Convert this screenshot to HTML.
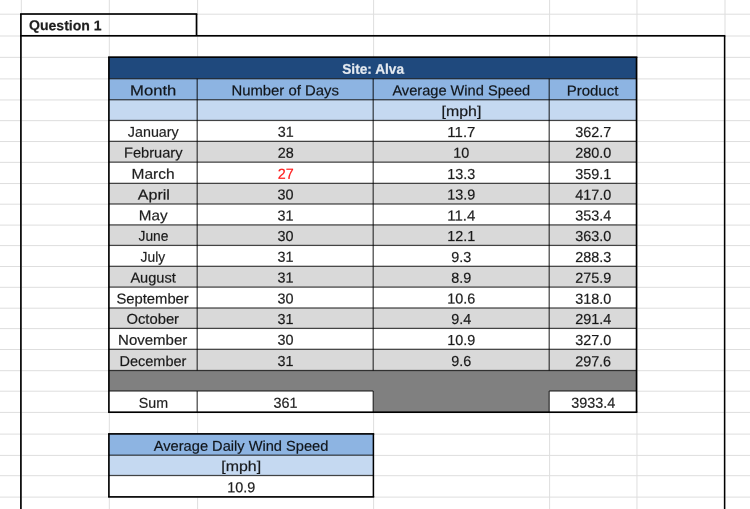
<!DOCTYPE html>
<html><head><meta charset="utf-8"><title>Question 1</title>
<style>
html,body{margin:0;padding:0;background:#fff;}
body{width:750px;height:509px;overflow:hidden;}
text{fill-opacity:0.88;stroke-width:0.3;stroke-opacity:0.55;}
svg{display:block;font-family:"Liberation Sans",sans-serif;text-rendering:geometricPrecision;}
</style></head><body>
<svg width="750" height="509" viewBox="0 0 750 509">
<rect x="0.00" y="0.00" width="750.00" height="509.00" fill="#ffffff"/>
<rect x="0.00" y="13.70" width="750.00" height="1.00" fill="#dedede"/>
<rect x="0.00" y="35.50" width="750.00" height="1.00" fill="#dedede"/>
<rect x="0.00" y="56.85" width="750.00" height="1.00" fill="#dedede"/>
<rect x="0.00" y="78.40" width="750.00" height="1.00" fill="#dedede"/>
<rect x="0.00" y="99.45" width="750.00" height="1.00" fill="#dedede"/>
<rect x="0.00" y="120.15" width="750.00" height="1.00" fill="#dedede"/>
<rect x="0.00" y="141.05" width="750.00" height="1.00" fill="#dedede"/>
<rect x="0.00" y="161.85" width="750.00" height="1.00" fill="#dedede"/>
<rect x="0.00" y="183.05" width="750.00" height="1.00" fill="#dedede"/>
<rect x="0.00" y="203.70" width="750.00" height="1.00" fill="#dedede"/>
<rect x="0.00" y="224.60" width="750.00" height="1.00" fill="#dedede"/>
<rect x="0.00" y="245.10" width="750.00" height="1.00" fill="#dedede"/>
<rect x="0.00" y="266.00" width="750.00" height="1.00" fill="#dedede"/>
<rect x="0.00" y="286.80" width="750.00" height="1.00" fill="#dedede"/>
<rect x="0.00" y="307.70" width="750.00" height="1.00" fill="#dedede"/>
<rect x="0.00" y="328.10" width="750.00" height="1.00" fill="#dedede"/>
<rect x="0.00" y="349.00" width="750.00" height="1.00" fill="#dedede"/>
<rect x="0.00" y="370.20" width="750.00" height="1.00" fill="#dedede"/>
<rect x="0.00" y="390.70" width="750.00" height="1.00" fill="#dedede"/>
<rect x="0.00" y="411.90" width="750.00" height="1.00" fill="#dedede"/>
<rect x="0.00" y="433.60" width="750.00" height="1.00" fill="#dedede"/>
<rect x="0.00" y="454.90" width="750.00" height="1.00" fill="#dedede"/>
<rect x="0.00" y="475.20" width="750.00" height="1.00" fill="#dedede"/>
<rect x="0.00" y="496.60" width="750.00" height="1.00" fill="#dedede"/>
<rect x="20.80" y="0.00" width="1.00" height="509.00" fill="#dedede"/>
<rect x="108.80" y="0.00" width="1.00" height="509.00" fill="#dedede"/>
<rect x="197.10" y="0.00" width="1.00" height="509.00" fill="#dedede"/>
<rect x="373.10" y="0.00" width="1.00" height="509.00" fill="#dedede"/>
<rect x="549.10" y="0.00" width="1.00" height="509.00" fill="#dedede"/>
<rect x="636.45" y="0.00" width="1.00" height="509.00" fill="#dedede"/>
<rect x="724.50" y="0.00" width="1.00" height="509.00" fill="#dedede"/>
<rect x="108.90" y="57.15" width="527.65" height="21.55" fill="#1f497d"/>
<rect x="108.90" y="78.70" width="527.65" height="21.05" fill="#8db4e2"/>
<rect x="108.90" y="99.75" width="527.65" height="20.70" fill="#c5d9f1"/>
<rect x="108.90" y="120.45" width="527.65" height="20.90" fill="#ffffff"/>
<rect x="108.90" y="141.35" width="527.65" height="20.80" fill="#d9d9d9"/>
<rect x="108.90" y="162.15" width="527.65" height="21.20" fill="#ffffff"/>
<rect x="108.90" y="183.35" width="527.65" height="20.65" fill="#d9d9d9"/>
<rect x="108.90" y="204.00" width="527.65" height="20.90" fill="#ffffff"/>
<rect x="108.90" y="224.90" width="527.65" height="20.50" fill="#d9d9d9"/>
<rect x="108.90" y="245.40" width="527.65" height="20.90" fill="#ffffff"/>
<rect x="108.90" y="266.30" width="527.65" height="20.80" fill="#d9d9d9"/>
<rect x="108.90" y="287.10" width="527.65" height="20.90" fill="#ffffff"/>
<rect x="108.90" y="308.00" width="527.65" height="20.40" fill="#d9d9d9"/>
<rect x="108.90" y="328.40" width="527.65" height="20.90" fill="#ffffff"/>
<rect x="108.90" y="349.30" width="527.65" height="21.20" fill="#d9d9d9"/>
<rect x="108.90" y="370.50" width="527.65" height="20.50" fill="#808080"/>
<rect x="108.90" y="391.00" width="264.30" height="21.20" fill="#ffffff"/>
<rect x="373.20" y="391.00" width="176.00" height="21.20" fill="#808080"/>
<rect x="549.20" y="391.00" width="87.35" height="21.20" fill="#ffffff"/>
<rect x="108.90" y="433.90" width="264.30" height="21.30" fill="#8db4e2"/>
<rect x="108.90" y="455.20" width="264.30" height="20.30" fill="#c5d9f1"/>
<rect x="108.90" y="475.50" width="264.30" height="21.40" fill="#ffffff"/>
<rect x="108.90" y="78.08" width="527.65" height="1.25" fill="rgba(0,0,0,0.72)"/>
<rect x="108.90" y="99.12" width="527.65" height="1.25" fill="rgba(0,0,0,0.72)"/>
<rect x="108.90" y="119.83" width="527.65" height="1.25" fill="rgba(0,0,0,0.72)"/>
<rect x="108.90" y="140.72" width="527.65" height="1.25" fill="rgba(0,0,0,0.72)"/>
<rect x="108.90" y="161.53" width="527.65" height="1.25" fill="rgba(0,0,0,0.72)"/>
<rect x="108.90" y="182.72" width="527.65" height="1.25" fill="rgba(0,0,0,0.72)"/>
<rect x="108.90" y="203.38" width="527.65" height="1.25" fill="rgba(0,0,0,0.72)"/>
<rect x="108.90" y="224.28" width="527.65" height="1.25" fill="rgba(0,0,0,0.72)"/>
<rect x="108.90" y="244.78" width="527.65" height="1.25" fill="rgba(0,0,0,0.72)"/>
<rect x="108.90" y="265.68" width="527.65" height="1.25" fill="rgba(0,0,0,0.72)"/>
<rect x="108.90" y="286.48" width="527.65" height="1.25" fill="rgba(0,0,0,0.72)"/>
<rect x="108.90" y="307.38" width="527.65" height="1.25" fill="rgba(0,0,0,0.72)"/>
<rect x="108.90" y="327.77" width="527.65" height="1.25" fill="rgba(0,0,0,0.72)"/>
<rect x="108.90" y="348.68" width="527.65" height="1.25" fill="rgba(0,0,0,0.72)"/>
<rect x="108.90" y="369.88" width="527.65" height="1.25" fill="rgba(0,0,0,0.72)"/>
<rect x="108.90" y="390.38" width="264.30" height="1.25" fill="rgba(0,0,0,0.72)"/>
<rect x="549.20" y="390.38" width="87.35" height="1.25" fill="rgba(0,0,0,0.72)"/>
<rect x="196.57" y="78.70" width="1.25" height="291.80" fill="rgba(0,0,0,0.72)"/>
<rect x="372.57" y="78.70" width="1.25" height="291.80" fill="rgba(0,0,0,0.72)"/>
<rect x="548.58" y="78.70" width="1.25" height="291.80" fill="rgba(0,0,0,0.72)"/>
<rect x="196.57" y="391.00" width="1.25" height="21.20" fill="rgba(0,0,0,0.72)"/>
<rect x="372.57" y="391.00" width="1.25" height="21.20" fill="rgba(0,0,0,0.72)"/>
<rect x="548.58" y="391.00" width="1.25" height="21.20" fill="rgba(0,0,0,0.72)"/>
<rect x="108.08" y="56.32" width="529.30" height="1.65" fill="#000"/>
<rect x="108.08" y="411.38" width="529.30" height="1.65" fill="#000"/>
<rect x="108.08" y="57.15" width="1.65" height="355.05" fill="#000"/>
<rect x="635.72" y="57.15" width="1.65" height="355.05" fill="#000"/>
<rect x="108.90" y="454.57" width="264.30" height="1.25" fill="rgba(0,0,0,0.72)"/>
<rect x="108.90" y="474.88" width="264.30" height="1.25" fill="rgba(0,0,0,0.72)"/>
<rect x="108.08" y="433.07" width="266.15" height="1.65" fill="#000"/>
<rect x="108.08" y="496.07" width="266.15" height="1.65" fill="#000"/>
<rect x="108.08" y="433.90" width="1.65" height="63.00" fill="#000"/>
<rect x="372.65" y="433.90" width="1.50" height="63.00" fill="#000"/>
<rect x="20.07" y="13.18" width="177.25" height="1.65" fill="#000"/>
<rect x="20.07" y="34.97" width="705.27" height="1.65" fill="#000"/>
<rect x="20.07" y="14.00" width="1.65" height="495.00" fill="#000"/>
<rect x="195.68" y="14.00" width="1.65" height="21.80" fill="#000"/>
<rect x="723.85" y="35.80" width="1.50" height="473.20" fill="#000"/>
<g transform="rotate(0.03 375 255)">
<text x="28.90" y="30.30" font-size="14.0" textLength="72.65" lengthAdjust="spacingAndGlyphs" fill="#000" stroke="#000" font-weight="700">Question 1</text>
<text x="342.16" y="73.80" font-size="14.0" textLength="61.77" lengthAdjust="spacingAndGlyphs" fill="#ffffff" stroke="#ffffff" font-weight="700">Site: Alva</text>
<text x="130.00" y="95.30" font-size="14.2" textLength="46.22" lengthAdjust="spacingAndGlyphs" fill="#000" stroke="#000">Month</text>
<text x="231.35" y="95.30" font-size="14.2" textLength="107.42" lengthAdjust="spacingAndGlyphs" fill="#000" stroke="#000">Number of Days</text>
<text x="392.30" y="95.30" font-size="14.2" textLength="137.77" lengthAdjust="spacingAndGlyphs" fill="#000" stroke="#000">Average Wind Speed</text>
<text x="566.64" y="95.30" font-size="14.2" textLength="51.61" lengthAdjust="spacingAndGlyphs" fill="#000" stroke="#000">Product</text>
<text x="441.53" y="116.00" font-size="14.2" textLength="39.76" lengthAdjust="spacingAndGlyphs" fill="#000" stroke="#000">[mph]</text>
<text x="127.80" y="136.90" font-size="14.2" textLength="50.82" lengthAdjust="spacingAndGlyphs" fill="#000" stroke="#000">January</text>
<text x="277.60" y="136.90" font-size="14.5" textLength="16.00" lengthAdjust="spacingAndGlyphs" fill="#000" stroke="#000">31</text>
<text x="447.30" y="136.90" font-size="14.5" textLength="28.00" lengthAdjust="spacingAndGlyphs" fill="#000" stroke="#000">11.7</text>
<text x="575.20" y="136.90" font-size="14.5" textLength="36.00" lengthAdjust="spacingAndGlyphs" fill="#000" stroke="#000">362.7</text>
<text x="123.96" y="157.70" font-size="14.2" textLength="58.56" lengthAdjust="spacingAndGlyphs" fill="#000" stroke="#000">February</text>
<text x="277.60" y="157.70" font-size="14.5" textLength="16.00" lengthAdjust="spacingAndGlyphs" fill="#000" stroke="#000">28</text>
<text x="453.30" y="157.70" font-size="14.5" textLength="16.00" lengthAdjust="spacingAndGlyphs" fill="#000" stroke="#000">10</text>
<text x="575.20" y="157.70" font-size="14.5" textLength="36.00" lengthAdjust="spacingAndGlyphs" fill="#000" stroke="#000">280.0</text>
<text x="131.50" y="178.90" font-size="14.2" textLength="43.04" lengthAdjust="spacingAndGlyphs" fill="#000" stroke="#000">March</text>
<text x="277.60" y="178.90" font-size="14.5" textLength="16.00" lengthAdjust="spacingAndGlyphs" fill="#ff0000" stroke="#ff0000">27</text>
<text x="447.30" y="178.90" font-size="14.5" textLength="28.00" lengthAdjust="spacingAndGlyphs" fill="#000" stroke="#000">13.3</text>
<text x="575.20" y="178.90" font-size="14.5" textLength="36.00" lengthAdjust="spacingAndGlyphs" fill="#000" stroke="#000">359.1</text>
<text x="137.79" y="199.55" font-size="14.2" textLength="32.14" lengthAdjust="spacingAndGlyphs" fill="#000" stroke="#000">April</text>
<text x="277.60" y="199.55" font-size="14.5" textLength="16.00" lengthAdjust="spacingAndGlyphs" fill="#000" stroke="#000">30</text>
<text x="447.30" y="199.55" font-size="14.5" textLength="28.00" lengthAdjust="spacingAndGlyphs" fill="#000" stroke="#000">13.9</text>
<text x="575.20" y="199.55" font-size="14.5" textLength="36.00" lengthAdjust="spacingAndGlyphs" fill="#000" stroke="#000">417.0</text>
<text x="138.82" y="220.45" font-size="14.2" textLength="28.76" lengthAdjust="spacingAndGlyphs" fill="#000" stroke="#000">May</text>
<text x="277.60" y="220.45" font-size="14.5" textLength="16.00" lengthAdjust="spacingAndGlyphs" fill="#000" stroke="#000">31</text>
<text x="447.30" y="220.45" font-size="14.5" textLength="28.00" lengthAdjust="spacingAndGlyphs" fill="#000" stroke="#000">11.4</text>
<text x="575.20" y="220.45" font-size="14.5" textLength="36.00" lengthAdjust="spacingAndGlyphs" fill="#000" stroke="#000">353.4</text>
<text x="138.51" y="240.95" font-size="14.2" textLength="29.87" lengthAdjust="spacingAndGlyphs" fill="#000" stroke="#000">June</text>
<text x="277.60" y="240.95" font-size="14.5" textLength="16.00" lengthAdjust="spacingAndGlyphs" fill="#000" stroke="#000">30</text>
<text x="447.30" y="240.95" font-size="14.5" textLength="28.00" lengthAdjust="spacingAndGlyphs" fill="#000" stroke="#000">12.1</text>
<text x="575.20" y="240.95" font-size="14.5" textLength="36.00" lengthAdjust="spacingAndGlyphs" fill="#000" stroke="#000">363.0</text>
<text x="140.61" y="261.85" font-size="14.2" textLength="24.59" lengthAdjust="spacingAndGlyphs" fill="#000" stroke="#000">July</text>
<text x="277.60" y="261.85" font-size="14.5" textLength="16.00" lengthAdjust="spacingAndGlyphs" fill="#000" stroke="#000">31</text>
<text x="451.30" y="261.85" font-size="14.5" textLength="20.00" lengthAdjust="spacingAndGlyphs" fill="#000" stroke="#000">9.3</text>
<text x="575.20" y="261.85" font-size="14.5" textLength="36.00" lengthAdjust="spacingAndGlyphs" fill="#000" stroke="#000">288.3</text>
<text x="130.40" y="282.65" font-size="14.2" textLength="45.46" lengthAdjust="spacingAndGlyphs" fill="#000" stroke="#000">August</text>
<text x="277.60" y="282.65" font-size="14.5" textLength="16.00" lengthAdjust="spacingAndGlyphs" fill="#000" stroke="#000">31</text>
<text x="451.30" y="282.65" font-size="14.5" textLength="20.00" lengthAdjust="spacingAndGlyphs" fill="#000" stroke="#000">8.9</text>
<text x="575.20" y="282.65" font-size="14.5" textLength="36.00" lengthAdjust="spacingAndGlyphs" fill="#000" stroke="#000">275.9</text>
<text x="116.47" y="303.55" font-size="14.2" textLength="72.30" lengthAdjust="spacingAndGlyphs" fill="#000" stroke="#000">September</text>
<text x="277.60" y="303.55" font-size="14.5" textLength="16.00" lengthAdjust="spacingAndGlyphs" fill="#000" stroke="#000">30</text>
<text x="447.30" y="303.55" font-size="14.5" textLength="28.00" lengthAdjust="spacingAndGlyphs" fill="#000" stroke="#000">10.6</text>
<text x="575.20" y="303.55" font-size="14.5" textLength="36.00" lengthAdjust="spacingAndGlyphs" fill="#000" stroke="#000">318.0</text>
<text x="126.47" y="323.95" font-size="14.2" textLength="52.60" lengthAdjust="spacingAndGlyphs" fill="#000" stroke="#000">October</text>
<text x="277.60" y="323.95" font-size="14.5" textLength="16.00" lengthAdjust="spacingAndGlyphs" fill="#000" stroke="#000">31</text>
<text x="451.30" y="323.95" font-size="14.5" textLength="20.00" lengthAdjust="spacingAndGlyphs" fill="#000" stroke="#000">9.4</text>
<text x="575.20" y="323.95" font-size="14.5" textLength="36.00" lengthAdjust="spacingAndGlyphs" fill="#000" stroke="#000">291.4</text>
<text x="118.14" y="344.85" font-size="14.2" textLength="69.18" lengthAdjust="spacingAndGlyphs" fill="#000" stroke="#000">November</text>
<text x="277.60" y="344.85" font-size="14.5" textLength="16.00" lengthAdjust="spacingAndGlyphs" fill="#000" stroke="#000">30</text>
<text x="447.30" y="344.85" font-size="14.5" textLength="28.00" lengthAdjust="spacingAndGlyphs" fill="#000" stroke="#000">10.9</text>
<text x="575.20" y="344.85" font-size="14.5" textLength="36.00" lengthAdjust="spacingAndGlyphs" fill="#000" stroke="#000">327.0</text>
<text x="119.58" y="366.05" font-size="14.2" textLength="66.83" lengthAdjust="spacingAndGlyphs" fill="#000" stroke="#000">December</text>
<text x="277.60" y="366.05" font-size="14.5" textLength="16.00" lengthAdjust="spacingAndGlyphs" fill="#000" stroke="#000">31</text>
<text x="451.30" y="366.05" font-size="14.5" textLength="20.00" lengthAdjust="spacingAndGlyphs" fill="#000" stroke="#000">9.6</text>
<text x="575.20" y="366.05" font-size="14.5" textLength="36.00" lengthAdjust="spacingAndGlyphs" fill="#000" stroke="#000">297.6</text>
<text x="138.80" y="407.75" font-size="14.2" textLength="29.30" lengthAdjust="spacingAndGlyphs" fill="#000" stroke="#000">Sum</text>
<text x="273.60" y="407.75" font-size="14.5" textLength="24.00" lengthAdjust="spacingAndGlyphs" fill="#000" stroke="#000">361</text>
<text x="571.30" y="407.75" font-size="14.5" textLength="44.00" lengthAdjust="spacingAndGlyphs" fill="#000" stroke="#000">3933.4</text>
<text x="153.90" y="450.75" font-size="14.2" textLength="174.57" lengthAdjust="spacingAndGlyphs" fill="#000" stroke="#000">Average Daily Wind Speed</text>
<text x="221.43" y="471.05" font-size="14.2" textLength="39.76" lengthAdjust="spacingAndGlyphs" fill="#000" stroke="#000">[mph]</text>
<text x="227.40" y="492.45" font-size="14.5" textLength="28.00" lengthAdjust="spacingAndGlyphs" fill="#000" stroke="#000">10.9</text>
</g>
</svg>
</body></html>
